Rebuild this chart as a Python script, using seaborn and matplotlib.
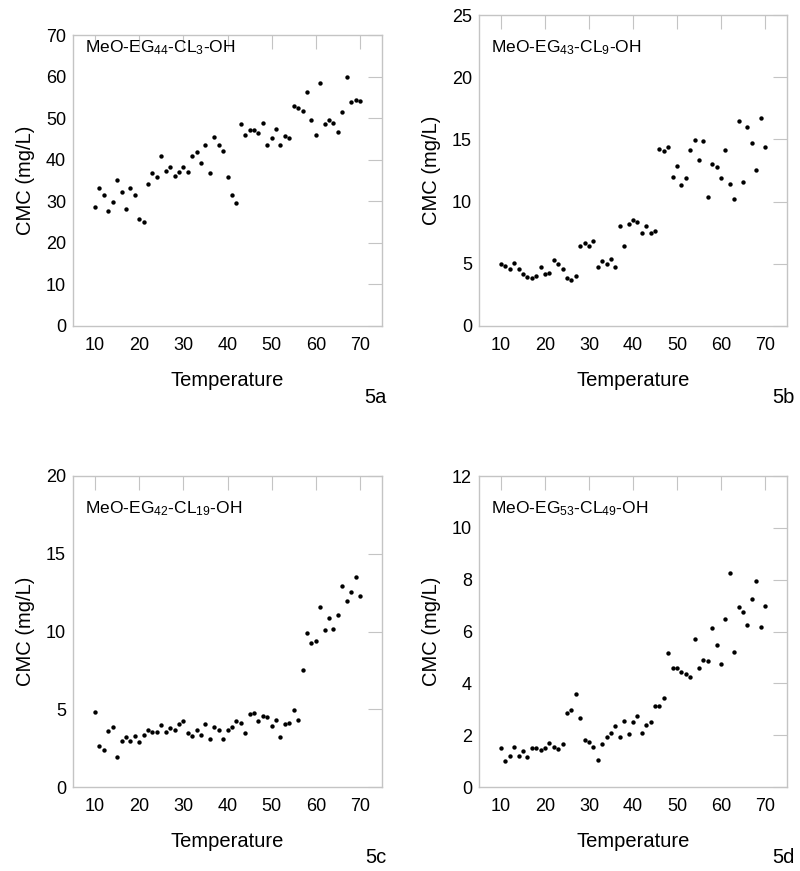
import numpy as np
import pandas as pd
import matplotlib
matplotlib.use("Agg")
import matplotlib.pyplot as plt
import seaborn as sns

temperature = list(range(10, 71))

cmc_5a = [28.6, 33.3, 31.4, 27.6, 29.9, 35.0, 32.3, 28.1, 33.3, 31.4,
          25.8, 25.0, 34.1, 36.7, 35.8, 41.0, 37.3, 38.2, 36.2, 37.0,
          38.2, 37.0, 40.8, 41.8, 39.1, 43.5, 36.7, 45.5, 43.5, 42.1,
          35.9, 31.4, 29.6, 48.5, 46.0, 47.1, 47.1, 46.5, 48.8, 43.5,
          45.3, 47.4, 43.5, 45.8, 45.2, 53.0, 52.5, 51.8, 56.3, 49.6,
          46.0, 58.4, 48.5, 49.6, 48.8, 46.7, 51.4, 59.8, 53.9, 54.4,
          54.2]

cmc_5b = [4.96, 4.86, 4.59, 5.04, 4.56, 4.21, 3.97, 3.89, 4.00, 4.75,
          4.16, 4.27, 5.28, 5.02, 4.59, 3.89, 3.70, 4.00, 6.41, 6.65,
          6.44, 6.84, 4.75, 5.23, 4.96, 5.36, 4.75, 8.07, 6.41, 8.21,
          8.50, 8.32, 7.51, 8.02, 7.51, 7.62, 14.24, 14.06, 14.35, 11.96,
          12.88, 11.35, 11.86, 14.16, 14.94, 13.36, 14.86, 10.35, 13.06, 12.82,
          11.86, 14.16, 11.45, 10.22, 16.50, 11.59, 16.01, 14.70, 12.55, 16.71,
          14.35]

cmc_5c = [4.80, 2.63, 2.40, 3.58, 3.83, 1.93, 2.93, 3.19, 2.93, 3.25,
          2.89, 3.36, 3.66, 3.55, 3.53, 4.00, 3.51, 3.81, 3.68, 4.05,
          4.22, 3.49, 3.25, 3.66, 3.36, 4.05, 3.08, 3.83, 3.68, 3.10,
          3.68, 3.83, 4.22, 4.13, 3.47, 4.67, 4.75, 4.22, 4.54, 4.48,
          3.90, 4.28, 3.19, 4.05, 4.09, 4.95, 4.33, 7.54, 9.93, 9.29,
          9.41, 11.57, 10.12, 10.84, 10.16, 11.03, 12.95, 11.95, 12.57, 13.51,
          12.27]

cmc_5d = [1.50, 1.02, 1.19, 1.55, 1.21, 1.39, 1.16, 1.50, 1.50, 1.41,
          1.50, 1.69, 1.55, 1.45, 1.65, 2.84, 2.97, 3.58, 2.68, 1.81,
          1.74, 1.55, 1.03, 1.65, 1.91, 2.10, 2.35, 1.92, 2.54, 2.06,
          2.49, 2.75, 2.10, 2.41, 2.49, 3.11, 3.11, 3.45, 5.17, 4.61,
          4.61, 4.43, 4.37, 4.24, 5.72, 4.58, 4.91, 4.87, 6.14, 5.48,
          4.74, 6.47, 8.24, 5.19, 6.94, 6.75, 6.25, 7.26, 7.93, 6.18,
          6.98]

sample_names = ["MeO-EG$_{44}$-CL$_{3}$-OH", "MeO-EG$_{43}$-CL$_{9}$-OH",
                "MeO-EG$_{42}$-CL$_{19}$-OH", "MeO-EG$_{53}$-CL$_{49}$-OH"]
panel_tags = ["5a", "5b", "5c", "5d"]
y_limits = [70, 25, 20, 12]
y_steps = [10, 5, 5, 2]
x_ticks = [10, 20, 30, 40, 50, 60, 70]

sns.set_theme(style="white")
plt.rcParams["font.family"] = ["Liberation Sans", "DejaVu Sans"]
plt.rcParams["mathtext.fontset"] = "custom"
plt.rcParams["mathtext.rm"] = "Liberation Sans"
plt.rcParams["mathtext.it"] = "Liberation Sans"
plt.rcParams["mathtext.default"] = "regular"
plt.rcParams["text.color"] = "black"
plt.rcParams["axes.labelcolor"] = "black"

W, H = 800, 871
fig = plt.figure(figsize=(W / 100, H / 100), dpi=100)

# pixel boxes: left, top, right, bottom
boxes = [(73, 35, 382, 326), (479, 15, 787, 326),
         (73, 476, 382, 787), (479, 476, 787, 787)]
name_y = [0.99, 0.926, 0.926, 0.926]
tag_pos = [(387, 397), (795, 397), (387, 857), (795, 857)]

frame_col = "#c4c4c4"
series = [cmc_5a, cmc_5b, cmc_5c, cmc_5d]

for i in range(4):
    l, t, r, b = boxes[i]
    ax = fig.add_axes([l / W, (H - b) / H, (r - l) / W, (b - t) / H])
    df = pd.DataFrame({"Temperature": temperature, "CMC": series[i]})
    sns.scatterplot(data=df, x="Temperature", y="CMC", ax=ax, color="black",
                    s=10, marker="o", linewidth=0, legend=False)
    ax.set_xlim(5, 75)
    ax.set_ylim(0, y_limits[i])
    ax.set_xticks(x_ticks)
    ax.set_yticks(np.arange(0, y_limits[i] + 0.001, y_steps[i]))
    ax.tick_params(direction="in", length=10, width=0.8, color=frame_col,
                   top=True, right=True, labelsize=13, labelcolor="black",
                   pad=5)
    ax.tick_params(axis="x", pad=8)
    for sp in ax.spines.values():
        sp.set_color(frame_col)
        sp.set_linewidth(1.0)
    ax.set_xlabel("Temperature", fontsize=14.5, labelpad=12)
    ax.set_ylabel("CMC (mg/L)", fontsize=14.5, labelpad=8)
    ax.text(0.04, name_y[i], sample_names[i], transform=ax.transAxes,
            ha="left", va="top", fontsize=12.5)
    tx, ty = tag_pos[i]
    fig.text(tx / W, 1 - ty / H, panel_tags[i], ha="right", va="center",
             fontsize=14.5)

fig.savefig("out.png", dpi=100)
